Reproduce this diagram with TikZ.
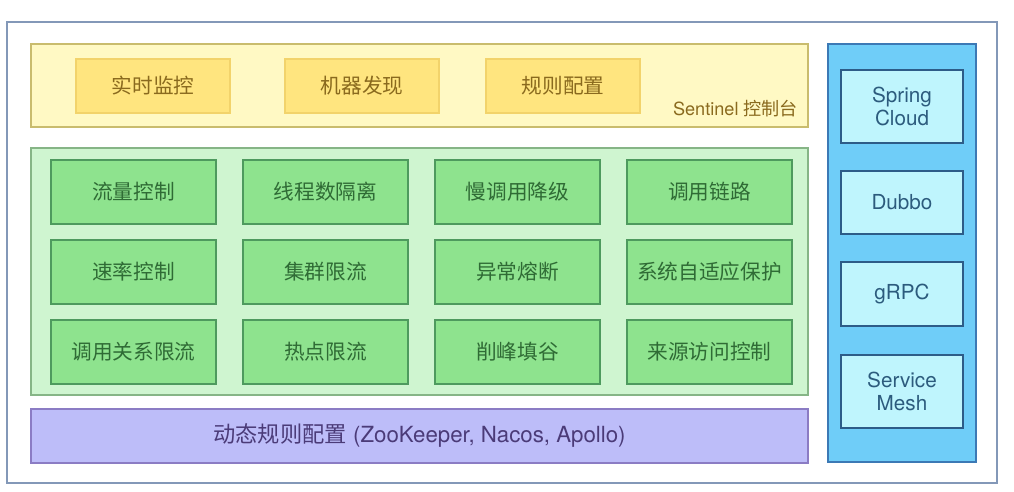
\documentclass[tikz,border=0pt]{standalone}
\usepackage{fontspec}
\setmainfont{TeX Gyre Heros}
\newfontfamily\cjk{Noto Sans CJK SC}
\definecolor{frameC}{HTML}{8398B8}
\definecolor{yelPanel}{HTML}{FFF9C4}
\definecolor{yelLine}{HTML}{C9BC6E}
\definecolor{yelBox}{HTML}{FFE57F}
\definecolor{yelBoxLine}{HTML}{F2D36B}
\definecolor{yelText}{HTML}{8A6A1E}
\definecolor{grnPanel}{HTML}{CFF5D0}
\definecolor{grnLine}{HTML}{86B586}
\definecolor{grnBox}{HTML}{8EE38E}
\definecolor{grnBoxLine}{HTML}{4E9A5E}
\definecolor{grnText}{HTML}{2F6B35}
\definecolor{purFill}{HTML}{BDBDF9}
\definecolor{purLine}{HTML}{8B7CC4}
\definecolor{purText}{HTML}{4B3B78}
\definecolor{bluPanel}{HTML}{6FCDF8}
\definecolor{bluLine}{HTML}{3C79B5}
\definecolor{bluBox}{HTML}{BFF5FD}
\definecolor{bluBoxLine}{HTML}{2D5C88}
\definecolor{bluText}{HTML}{2C5B7D}

\begin{document}
\begin{tikzpicture}[x=0.75pt, y=-0.75pt,
		every node/.style = {inner sep=0pt, outer sep=0pt, line width=0.9pt},
		panel/.style = {draw, rectangle, minimum width=582.75pt},
		yellowbox/.style = {draw=yelBoxLine, fill=yelBox, text=yelText, font=\cjk\fontsize{15.5}{18}\selectfont, minimum width=115.5pt, minimum height=40.5pt},
		greenbox/.style = {draw=grnBoxLine, fill=grnBox, text=grnText, font=\cjk\fontsize{15.5}{18}\selectfont, minimum width=123.75pt, minimum height=48pt},
		bluebox/.style = {draw=bluBoxLine, fill=bluBox, text=bluText, font=\fontsize{15.5}{17}\selectfont, align=center, minimum width=91.5pt}]
		\useasboundingbox (0, 0) rectangle (1014, 492);
		%%%%%%%%%%%%%
		\node[draw=frameC, line width=1.1pt, minimum width=742.5pt, minimum height=345.75pt] (frame) at (502, 252.5) {};
		\node[panel, draw=yelLine, fill=yelPanel, minimum height=62.25pt] (dashboard) at (419.5, 85.5) {};
		\node[panel, draw=grnLine, fill=grnPanel, minimum height=185.25pt] (features) at (419.5, 271.5) {};
		\node[panel, draw=purLine, fill=purFill, minimum height=40.5pt, text=purText, font=\fontsize{16.7}{19}\selectfont] (dynrules) at (419.5, 436) {{\cjk 动态规则配置} (ZooKeeper, Nacos, Apollo)};
		\node[draw=bluLine, fill=bluPanel, minimum width=111pt, minimum height=313.5pt] (adapters) at (902, 253) {};
		%%%%%%%%%%%%%
		\node[yellowbox] (monitor) at (153, 86) {实时监控};
		\node[yellowbox] (discover) at (362, 86) {机器发现};
		\node[yellowbox] (ruleconf) at (563, 86) {规则配置};
		\node[anchor=base east, text=yelText, font=\fontsize{13.6}{16}\selectfont] (sentinel) at (798, 115) {Sentinel {\cjk 控制台}};
		%%%%%%%%%%%%%
		\node[greenbox] (g11) at (133.5, 192) {流量控制};
		\node[greenbox] (g12) at (325.5, 192) {线程数隔离};
		\node[greenbox] (g13) at (517.5, 192) {慢调用降级};
		\node[greenbox] (g14) at (709.5, 192) {调用链路};
		\node[greenbox] (g21) at (133.5, 272) {速率控制};
		\node[greenbox] (g22) at (325.5, 272) {集群限流};
		\node[greenbox] (g23) at (517.5, 272) {异常熔断};
		\node[greenbox] (g24) at (709.5, 272) {系统自适应保护};
		\node[greenbox] (g31) at (133.5, 352) {调用关系限流};
		\node[greenbox] (g32) at (325.5, 352) {热点限流};
		\node[greenbox] (g33) at (517.5, 352) {削峰填谷};
		\node[greenbox] (g34) at (709.5, 352) {来源访问控制};
		%%%%%%%%%%%%%
		\node[bluebox, minimum height=54.75pt] (spring) at (902, 106.5) {Spring\\Cloud};
		\node[bluebox, minimum height=47.25pt] (dubbo) at (902, 202.5) {Dubbo};
		\node[bluebox, minimum height=48pt] (grpc) at (902, 294) {gRPC};
		\node[bluebox, minimum height=54.75pt] (mesh) at (902, 391.5) {Service\\Mesh};
\end{tikzpicture}
\end{document}
